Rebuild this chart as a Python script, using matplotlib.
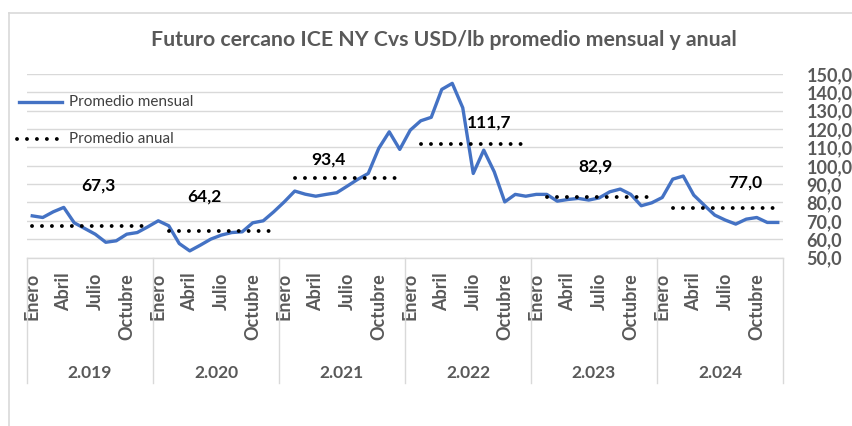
import matplotlib
matplotlib.use('Agg')
import matplotlib.pyplot as plt
import matplotlib.transforms as mtransforms
from matplotlib.lines import Line2D
import numpy as np

plt.rcParams['font.family'] = ['Lato', 'DejaVu Sans']

# ---------------- data ----------------
years = ['2.019', '2.020', '2.021', '2.022', '2.023', '2.024']
month_tick_labels = ['Enero', 'Abril', 'Julio', 'Octubre']
monthly_2019 = [72.7, 71.8, 74.9, 77.3, 68.9, 65.8, 62.7, 58.3, 59.1, 62.7, 63.6, 66.7]
monthly_2020 = [70.0, 67.3, 57.6, 53.6, 56.7, 60.0, 62.2, 63.6, 64.0, 68.9, 70.0, 74.9]
monthly_2021 = [80.3, 86.2, 84.5, 83.4, 84.4, 85.3, 88.9, 92.6, 95.8, 109.5, 118.5, 108.9]
monthly_2022 = [119.4, 124.5, 126.4, 141.6, 144.9, 131.6, 95.8, 108.5, 96.7, 80.3, 84.4, 83.4]
monthly_2023 = [84.4, 84.4, 80.7, 81.6, 82.2, 81.3, 82.5, 85.8, 87.3, 84.4, 78.2, 79.8]
monthly_2024 = [82.7, 92.7, 94.4, 84.0, 78.5, 73.1, 70.4, 68.2, 70.9, 71.8, 69.1, 69.1]
annual_avg = [67.3, 64.2, 93.4, 111.7, 82.9, 77.0]
annual_labels = ['67,3', '64,2', '93,4', '111,7', '82,9', '77,0']
y_ticks = [50, 60, 70, 80, 90, 100, 110, 120, 130, 140, 150]

monthly = (monthly_2019 + monthly_2020 + monthly_2021 +
           monthly_2022 + monthly_2023 + monthly_2024)

# ---------------- layout ----------------
W, H = 852, 426
fig = plt.figure(figsize=(W / 100, H / 100), dpi=100)
ax_l, ax_r, ax_t, ax_b = 27, 783, 74, 257.5
ax = fig.add_axes([ax_l / W, 1 - ax_b / H, (ax_r - ax_l) / W, (ax_b - ax_t) / H])

blue = '#4472C4'
grey_txt = '#595959'
grid_c = '#D9D9D9'
dot_style = (0, (0.01, 2.55))
dot_lw = 2.8

n = len(monthly)
x = np.arange(n)
ax.plot(x, monthly, color=blue, lw=2.4, solid_joinstyle='round', zorder=3)

# annual average dotted segments
for i, v in enumerate(annual_avg):
    start = 12 * i + (0 if i == 0 else 1)
    end = 12 * i + 11
    ax.plot([start, end], [v, v], color='black', lw=dot_lw,
            linestyle=dot_style, dash_capstyle='round', zorder=4)

# data labels (placement offsets)
label_pos = [(6.26, 89.4), (16.36, 83.4), (28.17, 103.6),
             (43.5, 123.3), (53.69, 99.4), (67.95, 90.7)]
for (lx, ly), t in zip(label_pos, annual_labels):
    ax.text(lx, ly, t, ha='center', va='center', fontsize=12.5,
            fontweight='bold', color='black', zorder=5)

ax.set_xlim(-0.5, n - 0.5)
ax.set_ylim(50, 150)
ax.set_yticks(y_ticks)
ax.set_yticklabels([f'{v:.1f}'.replace('.', ',') for v in y_ticks])
ax.yaxis.tick_right()
ax.tick_params(axis='y', length=0, pad=17, labelsize=13, labelcolor=grey_txt)
for lab in ax.get_yticklabels():
    lab.set_fontweight('bold')
ax.grid(axis='y', color=grid_c, lw=1)
ax.set_axisbelow(True)

xt = []
xl = []
for i in range(len(years)):
    for k, m in enumerate(month_tick_labels):
        xt.append(12 * i + 3 * k)
        xl.append(m)
ax.set_xticks(xt)
ax.set_xticklabels(xl, rotation=90, fontweight='bold', color=grey_txt,
                   fontsize=13, va='top', ha='center')
ax.tick_params(axis='x', length=0, pad=11)

for s in ['left', 'right', 'top']:
    ax.spines[s].set_visible(False)
ax.spines['bottom'].set_color(grid_c)
ax.spines['bottom'].set_linewidth(1)

# year group labels and separators
trans = mtransforms.blended_transform_factory(ax.transData, fig.transFigure)
for i in range(len(years) + 1):
    xb = 12 * i - 0.5
    ax.add_line(Line2D([xb, xb], [1 - 257.5 / H, 1 - 383 / H], transform=trans,
                       color=grid_c, lw=1, clip_on=False))
for i, yr in enumerate(years):
    ax.text(12 * i + 5.5, 1 - 372.5 / H, yr, transform=trans, ha='center',
            va='center', fontsize=12.5, fontweight='bold', color=grey_txt)

# title
fig.text(444 / W, 1 - 40 / H, 'Futuro cercano ICE NY Cvs USD/lb promedio mensual y anual',
         ha='center', va='center', fontsize=15.3, fontweight='bold', color=grey_txt)

# legend (manual, placed in figure pixels)
fig.add_artist(Line2D([19 / W, 62 / W], [1 - 101.7 / H] * 2, color=blue, lw=2.4))
fig.add_artist(Line2D([17 / W, 62 / W], [1 - 138.7 / H] * 2, color='black', lw=dot_lw,
                      linestyle=dot_style, dash_capstyle='round'))
fig.text(69 / W, 1 - 101.7 / H, 'Promedio mensual', ha='left', va='center',
         fontsize=11, color='#404040')
fig.text(69 / W, 1 - 138.7 / H, 'Promedio anual', ha='left', va='center',
         fontsize=11, color='#404040')

# outer chart border
fig.add_artist(Line2D([9 / W, 9 / W], [0, 1 - 12.5 / H], color=grid_c, lw=1.2))
fig.add_artist(Line2D([9 / W, 1], [1 - 12.5 / H] * 2, color=grid_c, lw=1.2))

fig.savefig('out.png', dpi=100)
